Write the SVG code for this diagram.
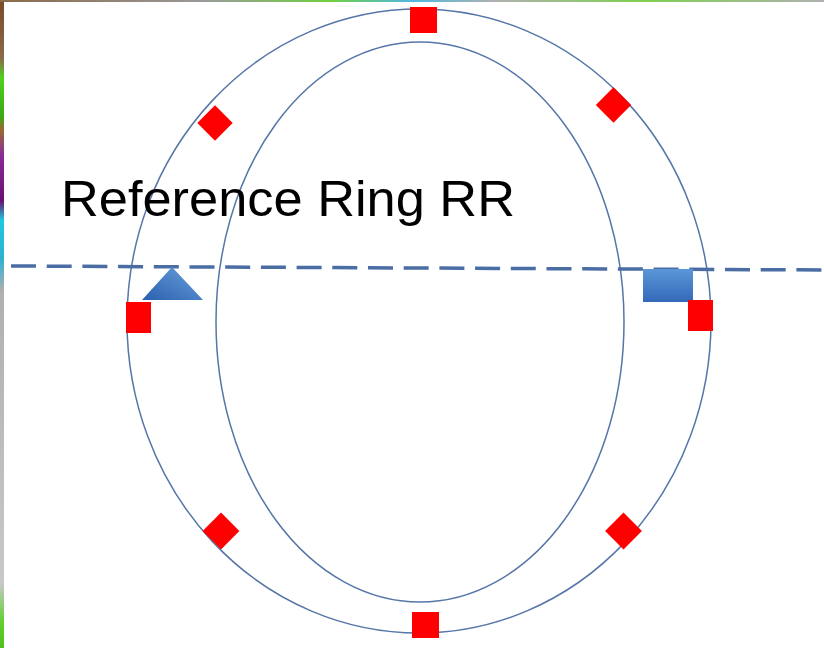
<svg xmlns="http://www.w3.org/2000/svg" width="824" height="648" viewBox="0 0 824 648">
  <defs>
    <linearGradient id="edgeL" x1="0" y1="0" x2="0" y2="1">
      <stop offset="0" stop-color="#7a4a2a"/>
      <stop offset="0.09" stop-color="#8a6a4a"/>
      <stop offset="0.12" stop-color="#4fd11c"/>
      <stop offset="0.18" stop-color="#3aa818"/>
      <stop offset="0.2" stop-color="#9a6a30"/>
      <stop offset="0.24" stop-color="#8a2a9a"/>
      <stop offset="0.31" stop-color="#6a1070"/>
      <stop offset="0.34" stop-color="#20c8e0"/>
      <stop offset="0.4" stop-color="#30b0d0"/>
      <stop offset="0.45" stop-color="#b0b0b0"/>
      <stop offset="0.9" stop-color="#c8c8c8"/>
      <stop offset="0.96" stop-color="#60d030"/>
      <stop offset="1" stop-color="#50c020"/>
    </linearGradient>
    <linearGradient id="edgeT" x1="0" y1="0" x2="1" y2="0">
      <stop offset="0" stop-color="#8a6a4a"/>
      <stop offset="0.25" stop-color="#9a9a9a"/>
      <stop offset="0.4" stop-color="#6fd040"/>
      <stop offset="0.5" stop-color="#50b8e0"/>
      <stop offset="0.6" stop-color="#b0b0b0"/>
      <stop offset="0.78" stop-color="#7fd050"/>
      <stop offset="1" stop-color="#b0b0b0"/>
    </linearGradient>
    <linearGradient id="triFill" x1="0" y1="1" x2="1" y2="0">
      <stop offset="0" stop-color="#2a5fae"/>
      <stop offset="1" stop-color="#6aa2dc"/>
    </linearGradient>
    <linearGradient id="rectFill" x1="0" y1="0" x2="0" y2="1">
      <stop offset="0" stop-color="#5b97d8"/>
      <stop offset="1" stop-color="#3468b8"/>
    </linearGradient>
    <style>
      .ring { fill: none; stroke: #5676a8; stroke-width: 1.5; }
      .marker { fill: #ff0000; }
      .label { font-family: "Liberation Sans", Arial, sans-serif; font-size: 50px; fill: #000000; }
      .ref { stroke: #4a6da4; stroke-width: 3.5; stroke-dasharray: 25 10.7; fill: none; }
    </style>
  </defs>

  <rect x="0" y="0" width="824" height="648" fill="#ffffff"/>
  <rect x="0" y="0" width="4" height="648" fill="url(#edgeL)"/>
  <rect x="0" y="0" width="824" height="2" fill="url(#edgeT)"/>

  <g id="outer-ring">
    <ellipse class="ring" cx="419" cy="321" rx="292" ry="312"/>
  </g>
  <g id="inner-ring">
    <ellipse class="ring" cx="420" cy="322" rx="204" ry="280"/>
  </g>

  <g id="connectors">
    <line class="ref" x1="11" y1="266" x2="824" y2="270"/>
  </g>

  <g id="label">
    <text class="label" x="61" y="216" textLength="454" lengthAdjust="spacingAndGlyphs">Reference Ring RR</text>
  </g>

  <g id="triangle-marker">
    <polygon points="172,267 203,300 142,300" fill="url(#triFill)"/>
  </g>
  <g id="rect-marker">
    <rect x="643" y="269" width="50" height="33" fill="url(#rectFill)"/>
  </g>

  <g id="sq-top"><rect class="marker" x="410" y="7" width="27" height="26"/></g>
  <g id="sq-bottom"><rect class="marker" x="412" y="612" width="27" height="26"/></g>
  <g id="sq-left"><rect class="marker" x="126" y="302" width="25" height="31"/></g>
  <g id="sq-right"><rect class="marker" x="688" y="300" width="25" height="31"/></g>

  <g id="dia-ul"><rect class="marker" x="-12.5" y="-12.5" width="25" height="25" transform="translate(215 123) rotate(45)"/></g>
  <g id="dia-ur"><rect class="marker" x="-12.5" y="-12.5" width="25" height="25" transform="translate(613.5 105) rotate(45)"/></g>
  <g id="dia-ll"><rect class="marker" x="-13" y="-13" width="26" height="26" transform="translate(221 531) rotate(45)"/></g>
  <g id="dia-lr"><rect class="marker" x="-13" y="-13" width="26" height="26" transform="translate(623.5 531) rotate(45)"/></g>
</svg>
